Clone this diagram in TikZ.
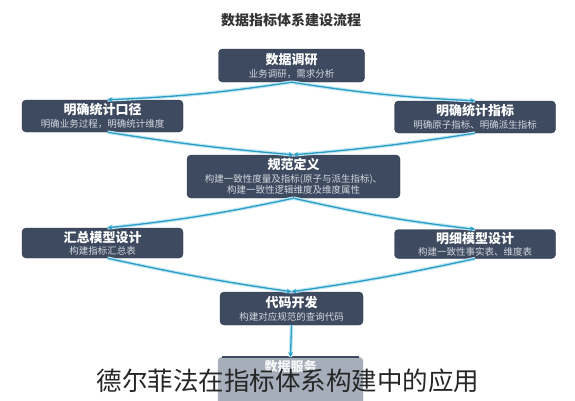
\documentclass[tikz,border=0pt]{standalone}
\usepackage{fontspec}
\setmainfont{Noto Sans CJK SC}
\usetikzlibrary{arrows.meta, positioning}

\definecolor{slate}{HTML}{3D4A5F}
\definecolor{slateedge}{HTML}{2E394A}
\definecolor{flow}{HTML}{2A9EC6}
\definecolor{glow}{HTML}{C4E8F3}
\definecolor{subgray}{HTML}{D3D8E0}
\definecolor{fade}{HTML}{A5AEBA}

\newcommand{\boxhead}[1]{{\fontsize{13pt}{15pt}\selectfont\bfseries #1}}
\newcommand{\boxsub}[1]{{\fontsize{9.5pt}{11pt}\selectfont\color{subgray}#1}}

\begin{document}
\begin{tikzpicture}[x=1pt, y=-1pt,
    box/.style={rectangle, draw=slateedge, fill=slate, rounded corners=4pt, text=white, align=center, inner sep=0pt, minimum width=161pt, minimum height=32pt},
    wide/.style={box, minimum width=146pt, minimum height=33pt},
    arrow/.style={flow, line width=1.3pt, -{Stealth[length=5pt, width=5pt]}, preaction={draw=glow, line width=3.6pt, -}},
    title/.style={font=\fontsize{14pt}{16pt}\selectfont\bfseries, text=black!80},
    caption/.style={font=\fontsize{25.5pt}{28pt}\selectfont, text=black!85}
]
\useasboundingbox (0,0) rectangle (575,400);
\clip (0,0) rectangle (575,400);

% Title
\node[title] (head) at (291,20) {数据指标体系建设流程};

% Steps
\node[wide] (survey) at (291.5,65.5) {\boxhead{数据调研}\\[1pt]\boxsub{业务调研，需求分析}};
\node[box] (caliber) at (102.5,116) {\boxhead{明确统计口径}\\[1pt]\boxsub{明确业务过程，明确统计维度}};
\node[box] (metric) at (475,117) {\boxhead{明确统计指标}\\[1pt]\boxsub{明确原子指标、明确派生指标}};
\node[box, minimum width=213pt, minimum height=43pt] (spec) at (293.5,176.5) {\boxhead{规范定义}\\[1pt]\boxsub{构建一致性度量及指标(原子与派生指标)、}\\[-1pt]\boxsub{构建一致性逻辑维度及维度属性}};
\node[box, minimum height=30pt] (summary) at (102.5,243) {\boxhead{汇总模型设计}\\[0pt]\boxsub{构建指标汇总表}};
\node[box, minimum height=29pt] (detail) at (475,244) {\boxhead{明细模型设计}\\[0pt]\boxsub{构建一致性事实表、维度表}};
\node[wide, minimum width=143pt] (code) at (291.5,308.5) {\boxhead{代码开发}\\[1pt]\boxsub{构建对应规范的查询代码}};
\node[box, fill=fade, draw=fade, minimum width=145pt, minimum height=48pt, anchor=north, text=white!90!fade] (serve) at (290.5,357) {\boxhead{数据服务}\\[18pt]};
\draw[slate, line width=2.5pt] ([xshift=4pt]serve.north west) -- ([xshift=-4pt]serve.north east);

% Connections
\draw[arrow] (survey.south) to[bend left=3] ([xshift=5pt]caliber.north);
\draw[arrow] (survey.south) to[bend right=3] (metric.north);
\draw[arrow] ([xshift=5pt]caliber.south) to[bend right=2] (spec.north);
\draw[arrow] (metric.south) to[bend left=2] (spec.north);
\draw[arrow] (spec.south) to[bend left=3] ([xshift=5pt]summary.north);
\draw[arrow] (spec.south) to[bend right=3] (detail.north);
\draw[arrow] ([xshift=5pt]summary.south) to[bend right=2] (code.north);
\draw[arrow] (detail.south) to[bend left=2] (code.north);
\draw[arrow] (code.south) -- (serve.north);

% Caption
\node[caption] (note) at (288,381) {德尔菲法在指标体系构建中的应用};

\end{tikzpicture}
\end{document}
